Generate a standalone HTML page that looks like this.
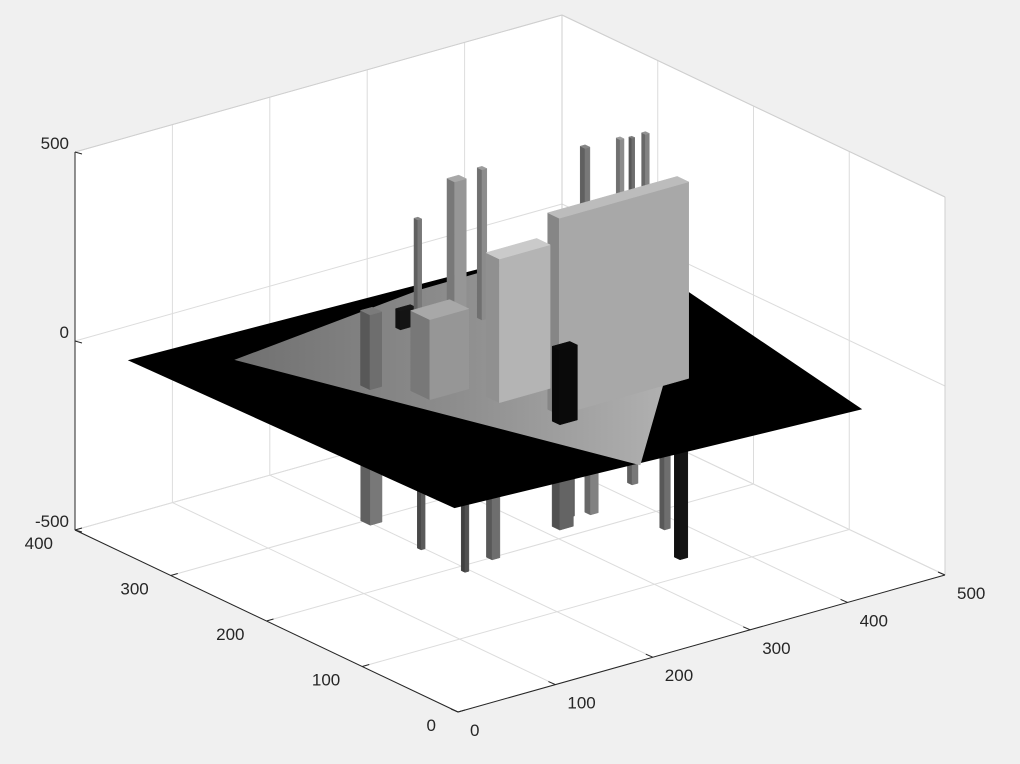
<!DOCTYPE html>
<html>
<head>
<meta charset="utf-8">
<style>
html,body{margin:0;padding:0;background:#f0f0f0;}
svg{display:block;}
text{font-family:"Liberation Sans",Arial,sans-serif;font-size:17px;fill:#262626;}
</style>
</head>
<body>
<svg id="chart" width="1020" height="764" viewBox="0 0 1020 764" xmlns="http://www.w3.org/2000/svg">
<defs>
<linearGradient id="gfloor" x1="0" y1="0" x2="1" y2="0">
<stop offset="0" stop-color="#707070"/>
<stop offset="0.5" stop-color="#8e8e8e"/>
<stop offset="1" stop-color="#b4b4b4"/>
</linearGradient>
</defs>
<g id="bg"></g>
<g id="grid"></g>
<g id="down"></g>
<g id="plane"></g>
<g id="up"></g>
<g id="axes"></g>
<g id="labels"></g>
</svg>
<script>
// ---- data ----
const xTicks = [0,100,200,300,400,500];
const yTicks = [0,100,200,300,400];
const zTicks = [-500,0,500];
const planeX = [8,485,415,18];
const planeY = [353,339,0,22];
const regionX = [77,196,451,437,292];
const regionY = [312,9,219,338,337];
// columns: x0, y0, dx, dy, zTop, zBottom, gray level
const colX  = [212,260,291,236,327,363,375,389,190,124,149,221,225,199,345];
const colY  = [110,268,271,282,200,200,200,200,150,218,181,181,289,96,200];
const colDX = [133,12,5,4,5,4,3,4,52,12,40,15,15,18,4];
const colDY = [12,8,5,4,5,4,3,4,14,10,20,10,5,8,4];
const colTop= [520,391,397,291,513,510,505,505,380,198,212,238,50,198,300];
const colBot= [0,0,0,0,0,0,0,0,0,0,0,0,0,0,0];
const colShade=[168,150,140,120,120,140,110,130,180,110,150,130,20,10,90];
// downward spikes
const dnX  = [83,89,76,94,192,198,225,273,283,205];
const dnY  = [176,129,70,60,89,63,47,62,56,95];
const dnDX = [12,4,4,8,14,8,6,6,8,8];
const dnDY = [10,4,4,6,8,6,5,5,6,6];
const dnBot= [-278,-291,-270,-238,-265,-198,-119,-291,-370,-250];
const dnShade=[120,90,80,110,100,130,120,110,20,90];

// ---- projection (axis functions) ----
function proj(x,y,z){
  return [458 + 0.974*x - 0.9575*y, 712 - 0.274*x - 0.455*y - (z+500)*0.378];
}
const NS="http://www.w3.org/2000/svg";
function el(tag, parent, attrs){
  const e=document.createElementNS(NS,tag);
  for(const k in attrs) e.setAttribute(k,attrs[k]);
  parent.appendChild(e); return e;
}
function pts(arr){return arr.map(p=>p[0].toFixed(1)+","+p[1].toFixed(1)).join(" ");}
function gray(v){v=Math.max(0,Math.min(255,Math.round(v)));return `rgb(${v},${v},${v})`;}

// background hull
const bg=document.getElementById('bg');
const hull=el('polygon',bg,{points:pts([proj(0,400,500),proj(500,400,500),proj(500,0,500),proj(500,0,-500),proj(0,0,-500),proj(0,400,-500)]),fill:'#ffffff'});



// grid
const grid=document.getElementById('grid');
const gc='#dcdcdc';
function line(g,a,b,c,w,name){
  const l=el('line',g,{x1:a[0],y1:a[1],x2:b[0],y2:b[1],stroke:c,'stroke-width':w});
  
  
  return l;
}
xTicks.forEach(x=>{
  line(grid,proj(x,0,-500),proj(x,400,-500),gc,1,'x-grid-floor');
  line(grid,proj(x,400,-500),proj(x,400,500),gc,1,'x-grid-wall');
});
yTicks.forEach(y=>{
  line(grid,proj(0,y,-500),proj(500,y,-500),gc,1,'y-grid-floor');
  line(grid,proj(500,y,-500),proj(500,y,500),gc,1,'y-grid-wall');
});
zTicks.forEach(z=>{
  line(grid,proj(0,400,z),proj(500,400,z),gc,1,'z-grid-left-wall');
  line(grid,proj(500,400,z),proj(500,0,z),gc,1,'z-grid-right-wall');
});
line(grid,proj(500,400,-500),proj(500,400,500),'#cfcfcf',1,'back-edge');

// box drawing
function box(g,x0,y0,dx,dy,zt,zb,shade,name,top){
  const x1=x0+dx,y1=y0+dy;
  const f1=el('polygon',g,{points:pts([proj(x0,y0,zb),proj(x0,y1,zb),proj(x0,y1,zt),proj(x0,y0,zt)]),fill:gray(shade*0.8),stroke:gray(shade*0.8),'stroke-width':0.5});
  
  
  const f2=el('polygon',g,{points:pts([proj(x0,y0,zb),proj(x1,y0,zb),proj(x1,y0,zt),proj(x0,y0,zt)]),fill:gray(shade),stroke:gray(shade),'stroke-width':0.5});
  
  
  if(top){
    const f3=el('polygon',g,{points:pts([proj(x0,y0,zt),proj(x1,y0,zt),proj(x1,y1,zt),proj(x0,y1,zt)]),fill:gray(shade*1.12),stroke:gray(shade*1.12),'stroke-width':0.5});
    
    
  }
}

// downward spikes (behind plane)
const down=document.getElementById('down');
dnX.map((_,i)=>i).sort((a,b)=>(dnX[b]+dnY[b])-(dnX[a]+dnY[a])).forEach(i=>{
  box(down,dnX[i],dnY[i],dnDX[i],dnDY[i],0,dnBot[i],dnShade[i],'down-spike',false);
});

// plane
const plane=document.getElementById('plane');
const pp=el('polygon',plane,{points:pts(planeX.map((x,i)=>proj(x,planeY[i],0))),fill:'#000000'});


const rg=el('polygon',plane,{points:pts(regionX.map((x,i)=>proj(x,regionY[i],0))),fill:'url(#gfloor)'});



// upward columns
const up=document.getElementById('up');
colX.map((_,i)=>i).sort((a,b)=>(colX[b]+colDX[b]/2+colY[b]+colDY[b]/2)-(colX[a]+colDX[a]/2+colY[a]+colDY[a]/2)).forEach(i=>{
  box(up,colX[i],colY[i],colDX[i],colDY[i],colTop[i],colBot[i],colShade[i],'column',true);
});

// axes lines
const axes=document.getElementById('axes');
const ac='#262626';
line(axes,proj(0,400,-500),proj(0,400,500),ac,1,'z-axis-line');
line(axes,proj(0,400,-500),proj(0,0,-500),ac,1,'y-axis-line');
line(axes,proj(0,0,-500),proj(500,0,-500),ac,1,'x-axis-line');
line(axes,proj(0,400,500),proj(500,400,500),'#cfcfcf',1,'top-left-edge');
line(axes,proj(500,400,500),proj(500,0,500),'#cfcfcf',1,'top-right-edge');
line(axes,proj(500,0,500),proj(500,0,-500),'#cfcfcf',1,'right-edge');

// labels & ticks
const lab=document.getElementById('labels');
function text(x,y,s,anchor,name){
  const t=el('text',lab,{x:x,y:y,'text-anchor':anchor});
  t.textContent=s;
  
  
}
zTicks.forEach(z=>{
  const p=proj(0,400,z);
  line(lab,p,[p[0]+7,p[1]+2],ac,1,'z-tick');
  text(p[0]-6,p[1]-3,String(z),'end','z-tick-label');
});
yTicks.forEach(y=>{
  const p=proj(0,y,-500);
  line(lab,p,[p[0]+7,p[1]-2],ac,1,'y-tick');
  text(p[0]-22,p[1]+19,String(y),'end','y-tick-label');
});
xTicks.forEach(x=>{
  const p=proj(x,0,-500);
  line(lab,p,[p[0]-7,p[1]-3],ac,1,'x-tick');
  text(p[0]+12,p[1]+24,String(x),'start','x-tick-label');
});
</script>
</body>
</html>
